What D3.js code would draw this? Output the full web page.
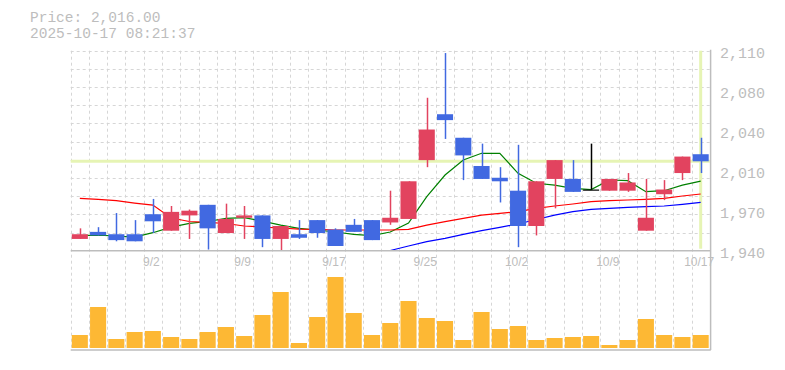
<!DOCTYPE html>
<html>
<head>
<meta charset="utf-8">
<script src="https://cdn.jsdelivr.net/npm/d3@7"></script>
<style>
body { margin: 0; background: #fff; }
</style>
</head>
<body>
<div id="chart"></div>
<script>
const dates = ["8/27","8/28","8/29","9/1","9/2","9/3","9/4","9/5","9/8","9/9",
    "9/10","9/11","9/12","9/16","9/17","9/18","9/19","9/22","9/24","9/25",
    "9/26","9/29","9/30","10/1","10/2","10/3","10/6","10/7","10/8","10/9",
    "10/10","10/14","10/15","10/16","10/17"];
const open  = [1950,1956,1954,1954,1971,1957,1970,1979,1955,1968,1970,1950,1954,1966,1958,1962,1966,1964,1967,2017,
               2056,2036,2012,2002,1991,1961,2001,2001,1992,1991,1991,1957,1988,2006,2022];
const high  = [1959,1960,1972,1966,1984,1978,1975,1979,1980,1978,1970,1961,1966,1966,1959,1967,1966,1991,1999,2070,
               2108,2036,2031,2011,2030,1999,2017,2017,2031,2001,2006,2001,2000,2020,2036];
const low   = [1950,1953,1948,1948,1955,1957,1950,1941,1955,1950,1943,1940,1950,1951,1944,1956,1949,1962,1967,2011,
               2035,2000,2001,1981,1943,1953,1976,1990,1992,1991,1990,1957,1983,2000,2006];
const close = [1954,1953,1949,1948,1965,1973,1974,1959,1967,1970,1950,1961,1951,1955,1944,1956,1949,1968,1999,2043,
               2051,2021,2001,1999,1961,1999,2017,1990,1992,2001,1998,1968,1992,2020,2016];
const volume = [1300,4100,900,1600,1700,1100,900,1600,2100,1200,3300,5600,500,3100,7100,3500,1300,2500,4700,3000,
                2700,800,3600,1900,2200,800,1000,1100,1200,300,800,2900,1300,1100,1300];
const ma5  = [1952.9,1953.3,1952.5,1951.6,1955.3,1960.1,1963.3,1964.8,1967.4,1968.1,1965.2,1961.8,1959.0,1957.6,1955.9,
              1953.8,1952.9,1955.9,1963.5,1985.9,2004.3,2017.1,2022.8,2022.8,2005.8,1997.3,1995.8,1993.0,1992.0,2000.1,
              1999.5,1990.2,1991.0,1995.8,1999.2];
const ma25 = [1984.5,1983.7,1982.5,1980.5,1978.8,1967.8,1964.8,1964.0,1963.1,1961.0,1960.1,1959.3,1958.4,1958.2,1957.6,
              1957.6,1957.6,1957.6,1958.2,1961.8,1964.7,1967.5,1970.3,1971.8,1973.2,1976.0,1978.0,1979.7,1981.7,1982.5,
              1983.1,1983.7,1984.5,1986.5,1988.2];
const ma75 = [null,null,null,null,null,null,null,null,null,null,null,null,null,null,null,
              null,null,1940.2,1944.0,1947.7,1950.5,1953.9,1957.0,1959.9,1962.7,1966.5,1970.3,1973.2,1975.2,1976.0,
              1976.9,1977.4,1978.0,1979.4,1981.1];
const priceTicks = [1940, 1974, 2008, 2042, 2076, 2110];
const priceTickLabels = ["1,940", "1,970", "2,010", "2,040", "2,080", "2,110"];
const dateLabels = ["9/2", "9/9", "9/17", "9/25", "10/2", "10/9", "10/17"];
const lastPrice = 2016;
const titleLines = ["Price: 2,016.00", "2025-10-17 08:21:37"];

const W = 785, H = 370;
const left = 70.7, right = 709.8;
const pTop = 50.7, pBottom = 250.7;
const vTop = 268, vBottom = 348, panelBottom = 350;
const gray = "#bdbdbd", gridColor = "#d6d6d6";
const upColor = "#e2435f", downColor = "#4169e1";

const svg = d3.select("#chart").append("svg")
    .attr("width", W).attr("height", H);

const x = d3.scaleBand().domain(dates).range([left, right])
    .paddingInner(0.12).paddingOuter(0.06);
const step = x.step(), bw = x.bandwidth();
const cx = d => x(d) + bw / 2;

const y = d3.scaleLinear().domain([1940, 2110]).range([pBottom, pTop]);
const yv = d3.scaleLinear().domain([0, 8000]).range([vBottom, vTop]);

svg.append("clipPath").attr("id", "pclip").append("rect")
    .attr("x", left).attr("y", pTop).attr("width", right - left).attr("height", pBottom - pTop);

// grid
const grid = svg.append("g").attr("stroke", gridColor).attr("stroke-dasharray", "3,3");
d3.range(dates.length + 1).forEach(k => {
    const gx = Math.round(left + k * step) + 0.5;
    grid.append("line").attr("x1", gx).attr("x2", gx).attr("y1", pTop).attr("y2", panelBottom);
});
d3.range(11).forEach(k => {
    const gy = Math.round(pTop + k * (pBottom - pTop) / 11) + 0.5;
    grid.append("line").attr("x1", left).attr("x2", right).attr("y1", gy).attr("y2", gy);
});

// crosshair on last price
const lastDate = dates[dates.length - 1];
svg.append("line").attr("x1", left).attr("x2", right)
    .attr("y1", y(lastPrice)).attr("y2", y(lastPrice))
    .attr("stroke", "#e6f4b4").attr("stroke-width", 3);
svg.append("line").attr("x1", cx(lastDate)).attr("x2", cx(lastDate))
    .attr("y1", pTop).attr("y2", pBottom - 2)
    .attr("stroke", "#e6f4b4").attr("stroke-width", 3);

// moving averages
const maLine = d3.line()
    .defined(d => d.v != null)
    .x(d => cx(d.date)).y(d => y(d.v));
[[ma5, "#008000"], [ma25, "#ff0000"], [ma75, "#0000ff"]].forEach(([vals, col]) => {
    svg.append("path")
        .attr("clip-path", "url(#pclip)")
        .attr("d", maLine(vals.map((v, i) => ({ date: dates[i], v }))))
        .attr("fill", "none").attr("stroke", col).attr("stroke-width", 1.2);
});

// candles
const candles = svg.append("g");
dates.forEach((d, i) => {
    const col = close[i] > open[i] ? upColor : close[i] < open[i] ? downColor : "#000";
    const xm = Math.round(cx(d)) + 0.5;
    candles.append("line")
        .attr("x1", xm).attr("x2", xm)
        .attr("y1", y(high[i])).attr("y2", y(low[i]))
        .attr("stroke", col).attr("stroke-width", 1.5);
    const top = y(Math.max(open[i], close[i])), bot = y(Math.min(open[i], close[i]));
    candles.append("rect")
        .attr("x", x(d)).attr("width", bw)
        .attr("y", top).attr("height", Math.max(1.2, bot - top))
        .attr("fill", col);
});

// volume
svg.append("g").selectAll("rect")
    .data(volume)
    .enter().append("rect")
    .attr("x", (v, i) => x(dates[i]))
    .attr("width", bw)
    .attr("y", v => yv(v))
    .attr("height", v => vBottom - yv(v))
    .attr("fill", "#fdb834");

// frame
svg.append("line").attr("x1", left).attr("x2", right + 1).attr("y1", pBottom).attr("y2", pBottom)
    .attr("stroke", gray).attr("stroke-width", 1.5);
svg.append("line").attr("x1", left).attr("x2", right + 1).attr("y1", panelBottom).attr("y2", panelBottom)
    .attr("stroke", gray).attr("stroke-width", 1.5);
svg.append("line").attr("x1", right + 0.8).attr("x2", right + 0.8).attr("y1", pTop - 1).attr("y2", panelBottom)
    .attr("stroke", gray).attr("stroke-width", 1.5);

// price axis labels
svg.append("g").selectAll("text")
    .data(priceTicks)
    .enter().append("text")
    .attr("x", 720)
    .attr("y", v => y(v) + 7)
    .attr("font-family", "Liberation Mono, monospace")
    .attr("font-size", 15)
    .attr("fill", gray)
    .text((v, i) => priceTickLabels[i]);

// date labels
svg.append("g").selectAll("text")
    .data(dateLabels)
    .enter().append("text")
    .attr("x", d => cx(d) - 1.5)
    .attr("y", 266)
    .attr("text-anchor", "middle")
    .attr("font-family", "Liberation Sans, Arial, sans-serif")
    .attr("font-size", 12)
    .attr("fill", gray)
    .text(d => d);

// title
svg.append("g").selectAll("text")
    .data(titleLines)
    .enter().append("text")
    .attr("x", 30)
    .attr("y", (t, i) => 22 + i * 16)
    .attr("font-family", "Liberation Mono, monospace")
    .attr("font-size", 14.5)
    .attr("fill", gray)
    .text(t => t);
</script>
</body>
</html>
